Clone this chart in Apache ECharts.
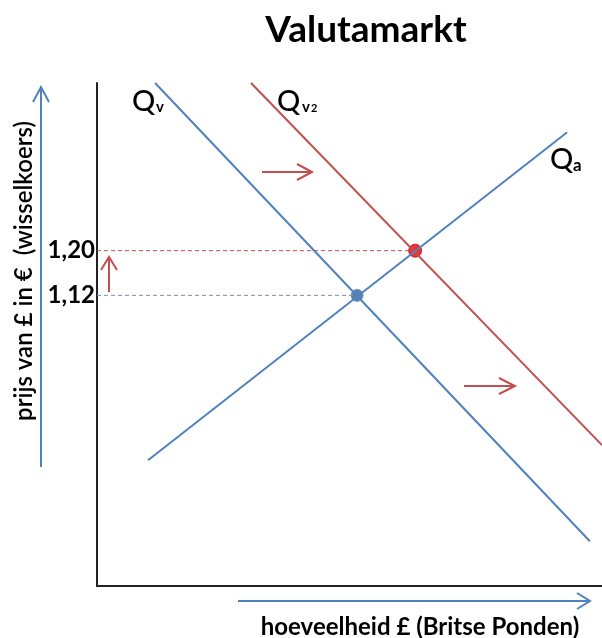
<!DOCTYPE html>
<html>
<head>
<meta charset="utf-8">
<script src="https://cdn.jsdelivr.net/npm/echarts@6/dist/echarts.min.js"></script>
<style>
  html, body { margin: 0; padding: 0; background: #fff; }
  #chart { width: 602px; height: 638px; }
</style>
</head>
<body>
<div id="chart"></div>
<script>
// curves: [quantity, price]
const qvLine = [[11.5, 1.50], [97.6, 0.68]]
const qv2Line = [[30.5, 1.50], [100, 0.852]]
const qaLine = [[10.1, 0.825], [93.1, 1.412]]
const priceTicks = [1.12, 1.20]
const oldEq = [51.5, 1.12]
const newEq = [63, 1.20]

const blue = '#4f81bd'
const red = '#c0504d'
const font = 'Lato, "Open Sans", sans-serif'

const chart = echarts.init(document.getElementById('chart'))

// little arrow helper (pixel annotations)
function arrow (pts, head, color) {
  return [
    { type: 'polyline', shape: { points: pts }, style: { stroke: color, lineWidth: 2, fill: null } },
    { type: 'polyline', shape: { points: head }, style: { stroke: color, lineWidth: 2, fill: null } }
  ]
}

const qStyle = { fontFamily: font, fontSize: 29, fontWeight: 500, fill: '#000' }
const subStyle = { fontFamily: font, fontWeight: 'bold', fill: '#000' }

const option = {
  animation: false,
  title: {
    text: 'Valutamarkt',
    left: 361,
    top: 7,
    textAlign: 'center',
    textStyle: { fontFamily: font, fontSize: 37, fontWeight: 'bold', color: '#000' }
  },
  grid: { left: 97, right: 0, top: 83, bottom: 52 },
  xAxis: {
    type: 'value',
    min: 0,
    max: 100,
    axisLine: { lineStyle: { color: '#222', width: 2 } },
    axisTick: { show: false },
    axisLabel: { show: false },
    splitLine: { show: false }
  },
  yAxis: {
    type: 'value',
    min: 0.6,
    max: 1.5,
    axisLine: { show: true, lineStyle: { color: '#222', width: 2 } },
    axisTick: { show: false },
    splitLine: { show: false },
    axisLabel: {
      customValues: priceTicks,
      margin: 2,
      fontFamily: font,
      fontSize: 24,
      fontWeight: 'bold',
      color: '#000',
      formatter: v => v.toFixed(2).replace('.', ',')
    }
  },
  series: [
    {
      type: 'line', data: [[0, newEq[1]], newEq], showSymbol: false, silent: true,
      lineStyle: { color: red, width: 1, type: [4, 3] }
    },
    {
      type: 'line', data: [[0, oldEq[1]], oldEq], showSymbol: false, silent: true,
      lineStyle: { color: '#7a8fb5', width: 1, type: [4, 3] }
    },
    { name: 'Qv', type: 'line', data: qvLine, showSymbol: false, lineStyle: { color: blue, width: 2 } },
    { name: 'Qv2', type: 'line', data: qv2Line, showSymbol: false, lineStyle: { color: red, width: 2 } },
    { name: 'Qa', type: 'line', data: qaLine, showSymbol: false, lineStyle: { color: blue, width: 2 } },
    {
      type: 'scatter', data: [oldEq], symbolSize: 12,
      itemStyle: { color: '#2f5f9e', borderColor: '#5a86c0', borderWidth: 1 }
    },
    {
      type: 'scatter', data: [newEq], symbolSize: 13,
      itemStyle: { color: '#e60000', borderColor: '#c00000', borderWidth: 1 }
    }
  ],
  graphic: [
    // curve labels
    { type: 'text', x: 132, y: 87, style: Object.assign({ text: 'Q' }, qStyle) },
    { type: 'text', x: 156, y: 100, style: Object.assign({ text: 'v', fontSize: 15 }, subStyle) },
    { type: 'text', x: 277, y: 87, style: Object.assign({ text: 'Q' }, qStyle) },
    { type: 'text', x: 302, y: 100, style: Object.assign({ text: 'v', fontSize: 15 }, subStyle) },
    { type: 'text', x: 311, y: 103, style: Object.assign({ text: '2', fontSize: 11 }, subStyle) },
    { type: 'text', x: 550, y: 145, style: Object.assign({ text: 'Q' }, qStyle) },
    { type: 'text', x: 573, y: 157, style: Object.assign({ text: 'a', fontSize: 17 }, subStyle) },
    // axis titles
    {
      type: 'text', x: 24, y: 271, rotation: Math.PI / 2,
      style: {
        text: 'prijs van £ in €  (wisselkoers)', fontFamily: font, fontSize: 24, fontWeight: 600,
        fill: '#000', align: 'center', verticalAlign: 'middle'
      }
    },
    {
      type: 'text', x: 420, y: 627,
      style: {
        text: 'hoeveelheid £ (Britse Ponden)', fontFamily: font, fontSize: 24, fontWeight: 'bold',
        fill: '#000', align: 'center', verticalAlign: 'middle'
      }
    },
    // blue axis arrows
    ...arrow([[41, 467], [41, 87]], [[33, 102], [41, 87], [49, 102]], blue),
    ...arrow([[238, 601], [590, 601]], [[577, 593], [590, 601], [577, 609]], blue),
    // red shift arrows
    ...arrow([[262, 172], [312, 172]], [[297, 164], [312, 172], [297, 180]], red),
    ...arrow([[464, 386], [515, 386]], [[499, 378], [515, 386], [499, 394]], red),
    ...arrow([[109, 292], [109, 257]], [[101, 270], [109, 257], [117, 270]], red)
  ]
}

chart.setOption(option)
</script>
</body>
</html>
